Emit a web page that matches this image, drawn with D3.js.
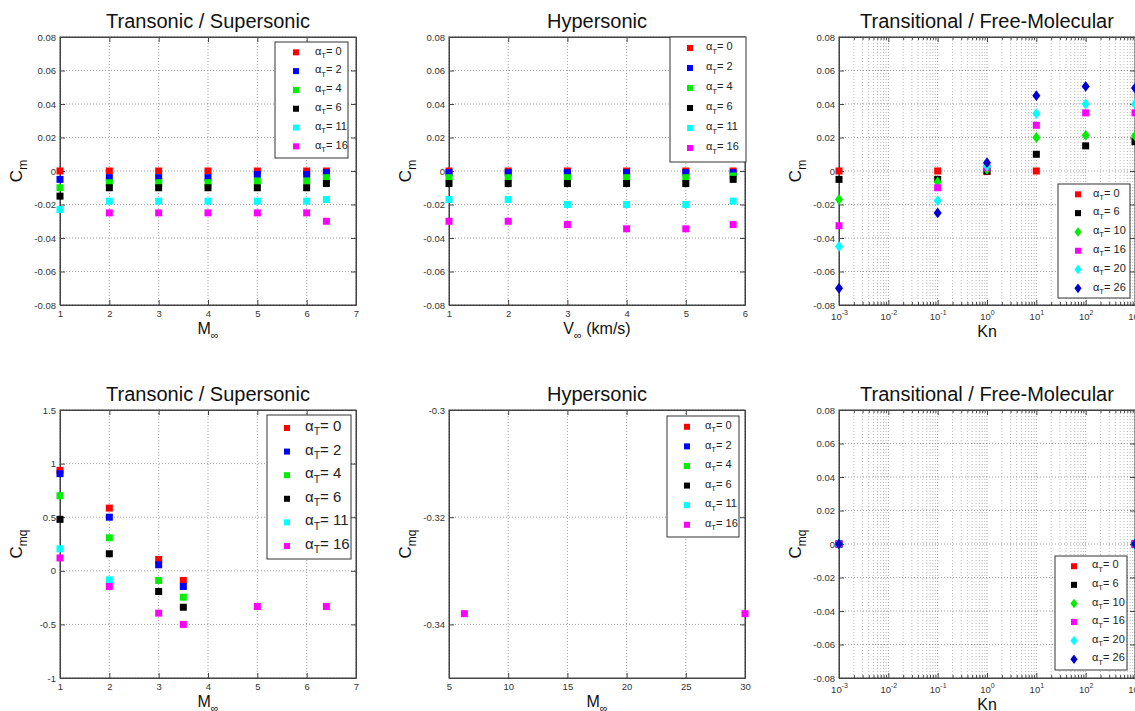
<!DOCTYPE html>
<html>
<head>
<meta charset="utf-8">
<script src="https://cdn.jsdelivr.net/npm/d3@7"></script>
<style>
  body { margin: 0; background: #fff; }
  svg { display: block; font-family: "Liberation Sans", Arial, sans-serif; }
  .tick text { fill: #333; }
</style>
</head>
<body>
<svg id="fig" width="1135" height="711"></svg>
<script>
// series labels / colours
var alphaTrans = ["0", "2", "4", "6", "11", "16"];
var alphaFree = ["0", "6", "10", "16", "20", "26"];
var colorsTrans = ["#ff0000", "#0000ff", "#00ee00", "#000000", "#00ffff", "#ff00ff"];
var colorsFree = ["#ff0000", "#000000", "#00ee00", "#ff00ff", "#00ffff", "#0000cc"];
var shapesTrans = ["s", "s", "s", "s", "s", "s"];
var shapesFree = ["s", "s", "d", "s", "d", "d"];

// Cm, transonic / supersonic
var machTrans = [1, 2, 3, 4, 5, 6, 6.4];
var cmTrans = [
  [0, 0, 0, 0, 0, 0, 0],
  [-0.005, -0.004, -0.004, -0.004, -0.002, -0.002, -0.001],
  [-0.010, -0.007, -0.007, -0.007, -0.006, -0.006, -0.004],
  [-0.015, -0.010, -0.010, -0.010, -0.010, -0.010, -0.0075],
  [-0.023, -0.018, -0.018, -0.018, -0.018, -0.018, -0.017],
  [null, -0.025, -0.025, -0.025, -0.025, -0.025, -0.030]
];

// Cm, hypersonic
var velHyper = [1, 2, 3, 4, 5, 5.8];
var cmHyper = [
  [0, 0, 0, 0, 0, 0],
  [-0.001, -0.001, -0.001, -0.001, -0.001, -0.001],
  [-0.004, -0.004, -0.004, -0.004, -0.004, -0.003],
  [-0.0075, -0.0075, -0.0075, -0.0075, -0.0075, -0.005],
  [-0.017, -0.017, -0.020, -0.020, -0.020, -0.018],
  [-0.030, -0.030, -0.032, -0.0345, -0.0345, -0.032]
];

// Cm, transitional / free-molecular
var knFree = [1e-3, 1e-1, 1, 10, 100, 1000];
var cmFree = [
  [0, 0, -0.0003, 0, null, null],
  [-0.005, -0.005, 0, 0.010, 0.015, 0.0175],
  [-0.017, -0.0065, 0.001, 0.020, 0.0213, 0.021],
  [-0.0327, -0.010, 0.002, 0.0273, 0.0347, 0.0347],
  [-0.045, -0.0177, 0.003, 0.0343, 0.040, 0.040],
  [-0.070, -0.025, 0.005, 0.045, 0.0505, 0.0495]
];

// Cmq, transonic / supersonic
var machCmq = [1, 2, 3, 3.5, 5, 6.4];
var cmqTrans = [
  [0.937, 0.585, 0.106, -0.09, null, null],
  [0.906, 0.50, 0.056, -0.146, null, null],
  [0.70, 0.308, -0.09, -0.246, null, null],
  [0.48, 0.159, -0.193, -0.34, null, null],
  [0.205, -0.084, null, null, null, null],
  [0.12, -0.146, -0.395, -0.50, -0.333, -0.333]
];

// Cmq, hypersonic
var machCmqHyper = [6.3, 30];
var cmqHyper = [
  [null, null], [null, null], [null, null],
  [null, null], [null, null], [-0.338, -0.338]
];

// Cmq, transitional / free-molecular
var knCmq = [1e-3, 1e3];
var cmqFree = [[0, 0], [0, 0], [0, 0], [0, 0], [0, 0], [0, 0]];

// tick values
var cmTicks = [-0.08, -0.06, -0.04, -0.02, 0, 0.02, 0.04, 0.06, 0.08];
var cmqTransTicks = [-1, -0.5, 0, 0.5, 1, 1.5];
var cmqHyperTicks = [-0.34, -0.32, -0.3];
var machTicks = [1, 2, 3, 4, 5, 6, 7];
var velTicks = [1, 2, 3, 4, 5, 6];
var machHyperTicks = [5, 10, 15, 20, 25, 30];
var knTicks = [1e-3, 1e-2, 1e-1, 1, 1e1, 1e2, 1e3];

var svg = d3.select("#fig");
var W = 296, H = 268;

var panels = [
  { left: 60, top: 37, title: "Transonic / Supersonic", xs: machTrans, ys: cmTrans,
    xdom: [1, 7], xticks: machTicks, ydom: [-0.08, 0.08], yticks: cmTicks,
    xlab: ["M", "\u221e", ""], ylab: "m", alphas: alphaTrans, colors: colorsTrans, shapes: shapesTrans,
    leg: { x: 275, y: 42, w: 73, h: 116, dy: 18.8, fs: 11, mx: 21, tx: 40 } },
  { left: 449, top: 37, title: "Hypersonic", xs: velHyper, ys: cmHyper,
    xdom: [1, 6], xticks: velTicks, ydom: [-0.08, 0.08], yticks: cmTicks,
    xlab: ["V", "\u221e", " (km/s)"], ylab: "m", alphas: alphaTrans, colors: colorsTrans, shapes: shapesTrans,
    leg: { x: 670, y: 37, w: 76, h: 125, dy: 20, fs: 11, mx: 20, tx: 36 } },
  { left: 839, top: 37, title: "Transitional / Free-Molecular", xs: knFree, ys: cmFree, log: true,
    xdom: [1e-3, 1e3], xticks: knTicks, ydom: [-0.08, 0.08], yticks: cmTicks,
    xlab: ["Kn", "", ""], ylab: "m", alphas: alphaFree, colors: colorsFree, shapes: shapesFree,
    leg: { x: 1058, y: 184, w: 72, h: 114, dy: 18.8, fs: 11, mx: 20, tx: 35 } },
  { left: 60, top: 410, title: "Transonic / Supersonic", xs: machCmq, ys: cmqTrans,
    xdom: [1, 7], xticks: machTicks, ydom: [-1, 1.5], yticks: cmqTransTicks,
    xlab: ["M", "\u221e", ""], ylab: "mq", alphas: alphaTrans, colors: colorsTrans, shapes: shapesTrans,
    leg: { x: 267, y: 415, w: 84, h: 144, dy: 23.6, fs: 15, mx: 20, tx: 38 } },
  { left: 449, top: 410, title: "Hypersonic", xs: machCmqHyper, ys: cmqHyper,
    xdom: [5, 30], xticks: machHyperTicks, ydom: [-0.35, -0.3], yticks: cmqHyperTicks,
    xlab: ["M", "\u221e", ""], ylab: "mq", alphas: alphaTrans, colors: colorsTrans, shapes: shapesTrans,
    leg: { x: 667, y: 416, w: 72, h: 121, dy: 19.6, fs: 11, mx: 20, tx: 38 } },
  { left: 839, top: 410, title: "Transitional / Free-Molecular", xs: knCmq, ys: cmqFree, log: true,
    xdom: [1e-3, 1e3], xticks: knTicks, ydom: [-0.08, 0.08], yticks: cmTicks,
    xlab: ["Kn", "", ""], ylab: "mq", alphas: alphaFree, colors: colorsFree, shapes: shapesFree,
    leg: { x: 1055, y: 556, w: 72, h: 114, dy: 18.6, fs: 11, mx: 19, tx: 37 } }
];

var fmtY = function (v) {
  if (v === 0) return "0";
  return String(+v.toFixed(2));
};

var drawMarker = function (sel, shape, color, size) {
  if (shape === "d") {
    var w = size * 0.45, h = size * 0.6;
    sel.append("path")
      .attr("d", "M0," + (-h) + "L" + w + ",0L0," + h + "L" + (-w) + ",0Z")
      .attr("fill", color);
  } else {
    sel.append("rect")
      .attr("x", -size / 2).attr("y", -size / 2)
      .attr("width", size).attr("height", size)
      .attr("fill", color);
  }
};

panels.forEach(function (p) {
  var g = svg.append("g").attr("transform", "translate(" + p.left + "," + p.top + ")");
  var x = p.log ? d3.scaleLog().domain(p.xdom).range([0, W]) : d3.scaleLinear().domain(p.xdom).range([0, W]);
  var y = d3.scaleLinear().domain(p.ydom).range([H, 0]);

  // minor log ticks
  var minor = [];
  if (p.log) {
    for (var e = -3; e < 3; e++)
      for (var m = 2; m <= 9; m++) minor.push(m * Math.pow(10, e));
  }

  // grid
  var grid = g.append("g").attr("stroke", "#888").attr("stroke-width", 0.8).attr("stroke-dasharray", "1,2");
  minor.forEach(function (v) {
    grid.append("line").attr("x1", x(v)).attr("x2", x(v)).attr("y1", 0).attr("y2", H).attr("stroke", "#aaa");
  });
  p.xticks.forEach(function (v) {
    grid.append("line").attr("x1", x(v)).attr("x2", x(v)).attr("y1", 0).attr("y2", H);
  });
  p.yticks.forEach(function (v) {
    grid.append("line").attr("x1", 0).attr("x2", W).attr("y1", y(v)).attr("y2", y(v));
  });

  // axes with inward ticks
  var bottom = g.append("g").attr("transform", "translate(0," + H + ")")
    .call(d3.axisBottom(x).tickValues(p.xticks).tickSizeInner(-5).tickSizeOuter(0).tickPadding(p.log ? 8 : 5)
      .tickFormat(p.log ? function () { return ""; } : d3.format("d")));
  g.append("g").call(d3.axisTop(x).tickValues(p.xticks).tickSizeInner(-5).tickSizeOuter(0).tickFormat(""));
  g.append("g").call(d3.axisLeft(y).tickValues(p.yticks).tickSizeInner(-5).tickSizeOuter(0).tickPadding(4).tickFormat(fmtY));
  g.append("g").attr("transform", "translate(" + W + ",0)")
    .call(d3.axisRight(y).tickValues(p.yticks).tickSizeInner(-5).tickSizeOuter(0).tickFormat(""));
  if (p.log) {
    g.append("g").attr("transform", "translate(0," + H + ")")
      .call(d3.axisBottom(x).tickValues(minor).tickSizeInner(-3).tickSizeOuter(0).tickFormat(""));
    g.append("g").call(d3.axisTop(x).tickValues(minor).tickSizeInner(-3).tickSizeOuter(0).tickFormat(""));
    bottom.selectAll(".tick text").each(function (d) {
      var t = d3.select(this);
      t.append("tspan").text("10");
      t.append("tspan").attr("dy", -5).attr("font-size", 7).text(Math.round(Math.log10(d)));
    });
  }
  g.selectAll(".tick text").attr("font-size", 9.5).attr("font-family", "Liberation Sans, Arial, sans-serif");
  g.selectAll(".domain").attr("stroke", "#444");
  g.selectAll(".tick line").attr("stroke", "#444");

  // box
  g.append("rect").attr("width", W).attr("height", H).attr("fill", "none").attr("stroke", "#444");

  // markers
  p.ys.forEach(function (row, si) {
    row.forEach(function (v, i) {
      if (v === null) return;
      var mk = g.append("g").attr("transform", "translate(" + x(p.xs[i]) + "," + y(v) + ")");
      drawMarker(mk, p.shapes[si], p.colors[si], p.shapes[si] === "d" ? 9 : 7);
    });
  });

  // title
  g.append("text").attr("x", W / 2).attr("y", -9).attr("text-anchor", "middle")
    .attr("font-size", 20).attr("fill", "#111").text(p.title);

  // x label
  var xl = g.append("text").attr("x", W / 2).attr("y", H + (p.log ? 32 : 29)).attr("text-anchor", "middle")
    .attr("font-size", 16).attr("fill", "#111");
  xl.append("tspan").text(p.xlab[0]);
  if (p.xlab[1]) {
    xl.append("tspan").attr("dy", 5).attr("font-size", 11).text(p.xlab[1]);
    xl.append("tspan").attr("dy", -5).text(p.xlab[2]);
  }

  // y label
  var yl = g.append("text").attr("transform", "translate(-38," + (H / 2) + ") rotate(-90)")
    .attr("text-anchor", "middle").attr("font-size", 17).attr("fill", "#111");
  yl.append("tspan").text("C");
  yl.append("tspan").attr("dy", 5).attr("font-size", 12).text(p.ylab);

  // legend
  var L = p.leg;
  var lg = svg.append("g").attr("transform", "translate(" + L.x + "," + L.y + ")");
  lg.append("rect").attr("width", L.w).attr("height", L.h).attr("fill", "#fff").attr("stroke", "#333");
  p.alphas.forEach(function (a, i) {
    var cy = L.dy * (i + 0.55);
    var mk = lg.append("g").attr("transform", "translate(" + L.mx + "," + cy + ")");
    drawMarker(mk, p.shapes[i], p.colors[i], p.shapes[i] === "d" ? 8 : 6);
    var t = lg.append("text").attr("x", L.tx).attr("y", cy + L.fs * 0.2).attr("font-size", L.fs).attr("fill", "#222");
    t.append("tspan").text("\u03b1");
    t.append("tspan").attr("dy", L.fs * 0.3).attr("font-size", L.fs * 0.7).text("T");
    t.append("tspan").attr("dy", -L.fs * 0.3).text("= " + a);
  });
});
</script>
</body>
</html>
